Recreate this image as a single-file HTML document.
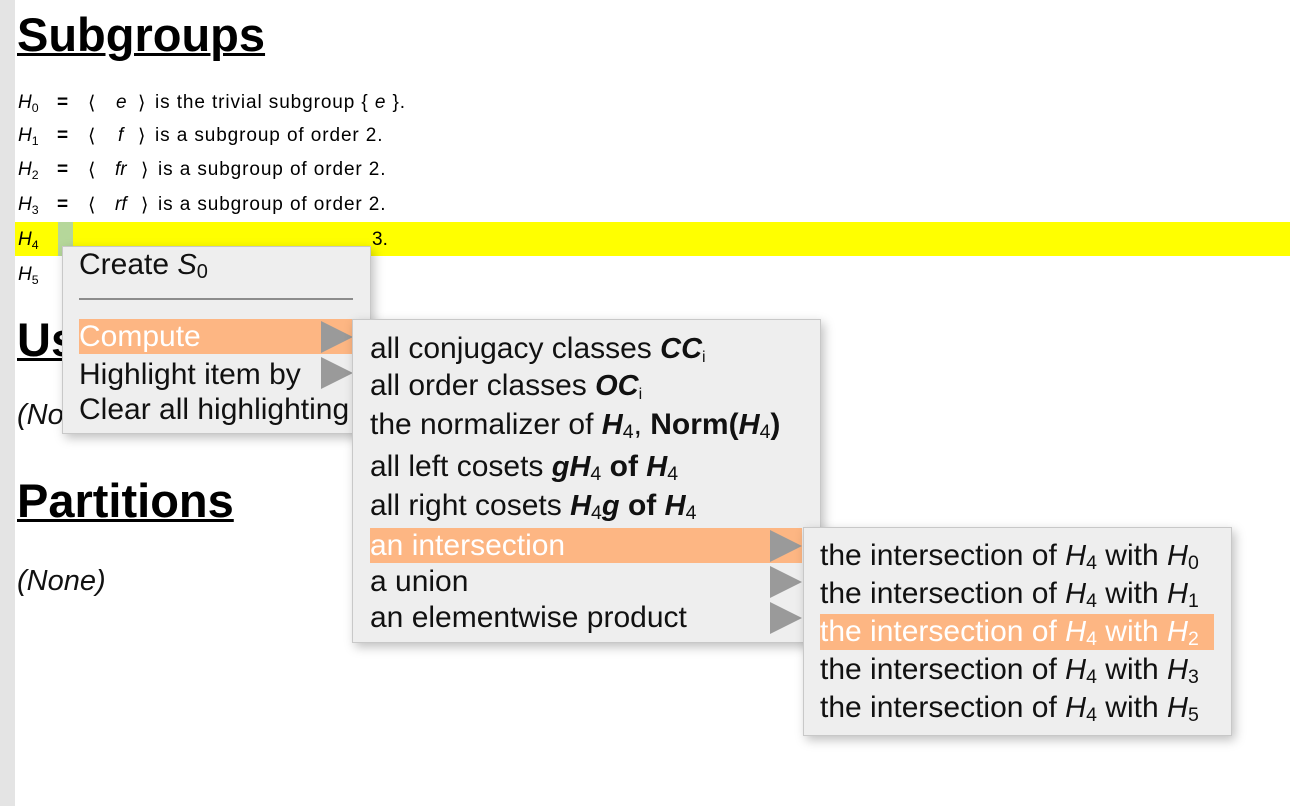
<!DOCTYPE html>
<html><head><style>
body{margin:0;width:1290px;height:806px;position:relative;overflow:hidden;background:#fff;font-family:"Liberation Sans",sans-serif;}
.strip{position:absolute;left:0;top:0;width:15px;height:806px;background:#e4e4e4}
.h{position:absolute;left:17px;font-weight:bold;font-size:47px;text-decoration:underline;text-decoration-thickness:3px;color:#000;line-height:50px}
.l{position:absolute;left:18px;font-size:19px;white-space:nowrap;font-family:"Liberation Sans",sans-serif;height:24px}
.l span{position:absolute;top:0}
.t{letter-spacing:0.9px}
i{font-style:italic}
.menu{position:absolute;background:#eeeeee;border:1px solid #c8c8c8;box-shadow:3px 4px 10px rgba(0,0,0,0.25)}
.it{position:absolute;font-size:30px;white-space:nowrap;color:#111;line-height:36px}
.hl{background:#fdb683;color:#fff}
.arr{position:absolute;width:0;height:0;border-top:16px solid transparent;border-bottom:16px solid transparent;border-left:32px solid #9a9a9a}
.m{font-family:"Liberation Sans",sans-serif;font-style:italic;font-weight:bold;font-size:29px}
.n{font-weight:normal;font-size:29px}
sub{font-size:65%;vertical-align:-4px;font-style:normal;font-weight:normal}
</style></head><body>
<div class="strip"></div>
<div class="h" style="top:10px">Subgroups</div>
<div style="position:absolute;left:15px;top:222px;width:1275px;height:34px;background:#ffff00"></div>
<div style="position:absolute;left:58px;top:222px;width:15px;height:34px;background:#b5d79a"></div>

<div class="l" style="top:92px"><span style="left:0"><i>H</i><sub>0</sub></span><span style="left:39px"><b>=</b></span><span style="left:70px">⟨</span><span style="left:98px"><i>e</i></span><span style="left:120px">⟩</span><span class="t" style="left:137px">is the trivial subgroup { <i>e</i> }.</span></div>
<div class="l" style="top:125px"><span style="left:0"><i>H</i><sub>1</sub></span><span style="left:39px"><b>=</b></span><span style="left:70px">⟨</span><span style="left:100px"><i>f</i></span><span style="left:120px">⟩</span><span class="t" style="left:137px">is a subgroup of order 2.</span></div>
<div class="l" style="top:159px"><span style="left:0"><i>H</i><sub>2</sub></span><span style="left:39px"><b>=</b></span><span style="left:70px">⟨</span><span style="left:97px"><i>fr</i></span><span style="left:123px">⟩</span><span class="t" style="left:140px">is a subgroup of order 2.</span></div>
<div class="l" style="top:194px"><span style="left:0"><i>H</i><sub>3</sub></span><span style="left:39px"><b>=</b></span><span style="left:70px">⟨</span><span style="left:97px"><i>rf</i></span><span style="left:123px">⟩</span><span class="t" style="left:140px">is a subgroup of order 2.</span></div>
<div class="l" style="top:229px"><i>H</i><sub>4</sub></div>
<div class="l" style="top:229px;left:372px">3.</div>
<div class="l" style="top:264px"><i>H</i><sub>5</sub></div>
<div class="h" style="top:315px">Us</div>
<div class="it" style="left:17px;top:397px;font-style:italic;font-size:29px">(No</div>
<div class="h" style="top:476px">Partitions</div>
<div class="it" style="left:17px;top:563px;font-style:italic;font-size:29px">(None)</div>

<div class="menu" style="left:62px;top:246px;width:307px;height:186px">
 <div class="it" style="left:16px;top:0px">Create <span class="m n">S</span><sub style="font-size:20px">0</sub></div>
 <div style="position:absolute;left:16px;top:51px;width:274px;height:2px;background:#8c8c8c"></div>
 <div class="it hl" style="left:16px;top:72px;width:274px;height:35px;line-height:35px">Compute</div>
 <div class="arr" style="left:258px;top:74px"></div>
 <div class="it" style="left:16px;top:110px">Highlight item by</div>
 <div class="arr" style="left:258px;top:110px"></div>
 <div class="it" style="left:16px;top:145px">Clear all highlighting</div>
</div>

<div class="menu" style="left:352px;top:319px;width:467px;height:322px">
 <div class="it" style="left:17px;top:11px">all conjugacy classes <span class="m">CC</span><sub style="font-size:16px">i</sub></div>
 <div class="it" style="left:17px;top:48px">all order classes <span class="m">OC</span><sub style="font-size:16px">i</sub></div>
 <div class="it" style="left:17px;top:87px">the normalizer of <span class="m">H</span><sub>4</sub>, <b>Norm(<span class="m">H</span><sub>4</sub>)</b></div>
 <div class="it" style="left:17px;top:129px">all left cosets <span class="m">gH</span><sub>4</sub> <b>of</b> <span class="m">H</span><sub>4</sub></div>
 <div class="it" style="left:17px;top:168px">all right cosets <span class="m">H</span><sub>4</sub><span class="m">g</span> <b>of</b> <span class="m">H</span><sub>4</sub></div>
 <div class="it hl" style="left:17px;top:208px;width:432px;height:35px;line-height:35px">an intersection</div>
 <div class="arr" style="left:417px;top:210px"></div>
 <div class="it" style="left:17px;top:244px">a union</div>
 <div class="arr" style="left:417px;top:246px"></div>
 <div class="it" style="left:17px;top:280px">an elementwise product</div>
 <div class="arr" style="left:417px;top:282px"></div>
</div>

<div class="menu" style="left:803px;top:527px;width:427px;height:207px">
 <div class="it" style="left:16px;top:10px">the intersection of <span class="m n">H</span><sub>4</sub> with <span class="m n">H</span><sub>0</sub></div>
 <div class="it" style="left:16px;top:48px">the intersection of <span class="m n">H</span><sub>4</sub> with <span class="m n">H</span><sub>1</sub></div>
 <div class="it hl" style="left:16px;top:86px;width:394px;height:36px">the intersection of <span class="m n">H</span><sub>4</sub> with <span class="m n">H</span><sub>2</sub></div>
 <div class="it" style="left:16px;top:124px">the intersection of <span class="m n">H</span><sub>4</sub> with <span class="m n">H</span><sub>3</sub></div>
 <div class="it" style="left:16px;top:162px">the intersection of <span class="m n">H</span><sub>4</sub> with <span class="m n">H</span><sub>5</sub></div>
</div>
</body></html>
